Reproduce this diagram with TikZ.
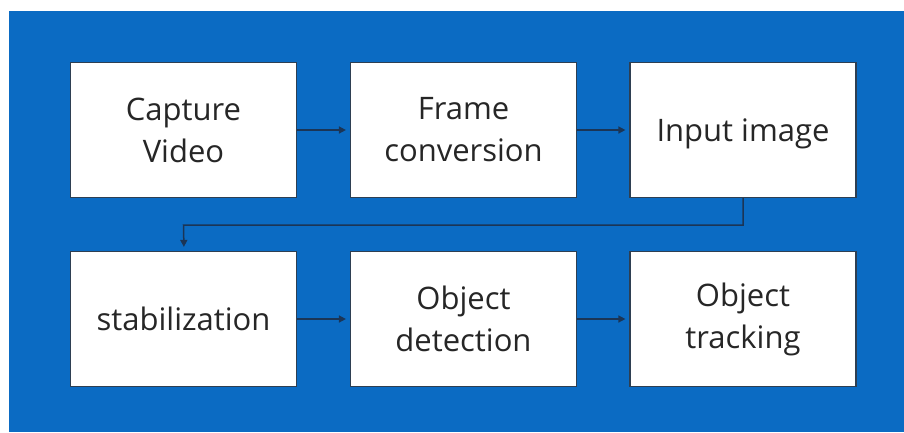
\documentclass[tikz,border=0pt]{standalone}
\usepackage{fontspec}
\setmainfont{Open Sans}
\usetikzlibrary{arrows.meta}
\definecolor{bgblue}{HTML}{0B6BC3}
\definecolor{edgegray}{HTML}{2E3F52}
\definecolor{arrownavy}{HTML}{1B3556}
\definecolor{textgray}{HTML}{262626}
\begin{document}
\begin{tikzpicture}[x=1pt,y=-1pt,
  stepbox/.style={draw=edgegray, line width=1.2pt, fill=white, minimum width=226pt,
    minimum height=135pt, inner sep=0pt, align=center, text=textgray,
    font=\fontsize{31}{42}\selectfont},
  flow/.style={draw=arrownavy, line width=1.5pt, -{Triangle[length=7pt,width=7pt]},
    shorten >=4pt}]
  % page and blue panel
  \useasboundingbox (0,0) rectangle (904,432);
  \fill[white] (0,0) rectangle (904,432);
  \fill[bgblue] (9,11) rectangle (904,432);
  % top row
  \node[stepbox] (capture) at (183.5,130) {Capture\\Video};
  \node[stepbox] (frame) at (463.5,130) {Frame\\conversion};
  \node[stepbox, text depth=0pt] (input) at (743,130) {Input image};
  % bottom row
  \node[stepbox] (stab) at (183.5,319) {stabilization};
  \node[stepbox] (detect) at (463.5,319) {Object\\detection};
  \node[stepbox] (track) at (743,319) {Object\\tracking};
  % connectors
  \draw[flow] (capture) -- (frame);
  \draw[flow] (frame) -- (input);
  \draw[flow] (input.south) |- (184,225) -- (184,225 -| stab.north) -- ([xshift=0.5pt]stab.north);
  \draw[flow] (stab) -- (detect);
  \draw[flow] (detect) -- (track);
\end{tikzpicture}
\end{document}
